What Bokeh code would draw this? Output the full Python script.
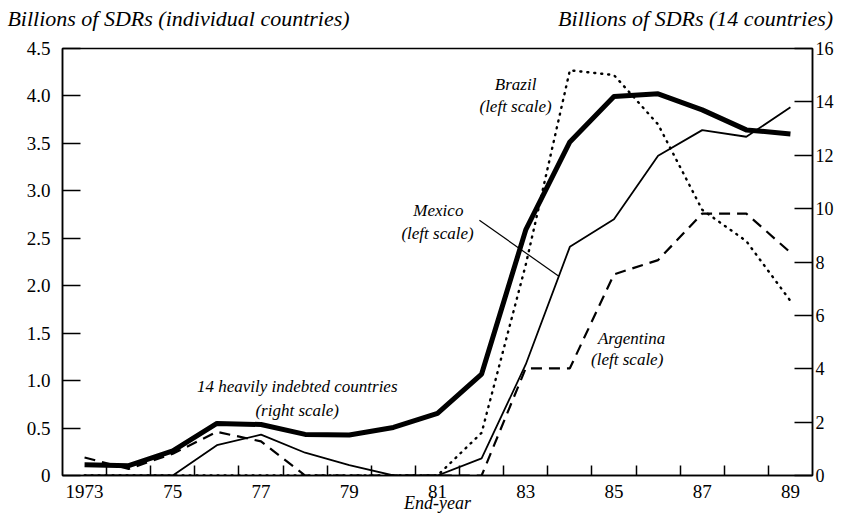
from bokeh.plotting import figure
from bokeh.models import Range1d, LinearAxis, FixedTicker, Label
from bokeh.embed import file_html
from bokeh.resources import INLINE
import numpy as np

years = list(range(1973, 1990))
# 14 heavily indebted countries (right scale, billions of SDRs)
indebted14 = [0.40, 0.37, 0.92, 1.95, 1.91, 1.54, 1.52, 1.80, 2.33, 3.80, 9.20,
              12.50, 14.20, 14.30, 13.70, 12.95, 12.80]
# individual countries (left scale)
mexico = [0, 0, 0, 0.32, 0.43, 0.24, 0.11, 0, 0, 0.18, 1.17, 2.41, 2.70, 3.37, 3.64, 3.57, 3.88]
brazil = [0, 0, 0, 0, 0, 0, 0, 0, 0, 0.45, 2.22, 4.27, 4.22, 3.70, 2.80, 2.47, 1.84]
argentina = [0.19, 0.07, 0.23, 0.46, 0.36, 0, 0, 0, 0, 0, 1.13, 1.13, 2.12, 2.27, 2.76, 2.76, 2.35]

left_ticks = [0, 0.5, 1.0, 1.5, 2.0, 2.5, 3.0, 3.5, 4.0, 4.5]
right_ticks = [0, 2, 4, 6, 8, 10, 12, 14, 16]
year_labels = [1973, 1975, 1977, 1979, 1981, 1983, 1985, 1987, 1989]
year_label_text = ["1973", "75", "77", "79", "81", "83", "85", "87", "89"]

left_title = "Billions of SDRs (individual countries)"
right_title = "Billions of SDRs (14 countries)"
x_title = "End-year"
# horizontal anchors (x data units) of the two scale titles above the frame
title_anchor = [1975.13, 1986.85]

SERIF = "Liberation Serif"

p = figure(width=836, height=515, output_backend="svg", toolbar_location=None,
           x_range=Range1d(1972.5, 1989.5), y_range=Range1d(0, 4.5),
           min_border_left=62, min_border_right=21, min_border_top=48, min_border_bottom=40)
p.extra_y_ranges = {"right": Range1d(0, 16)}
p.grid.visible = False
p.outline_line_color = "black"
p.outline_line_width = 1.5

# x axis (below)
xa = p.below[0]
xa.ticker = FixedTicker(ticks=year_labels, minor_ticks=[y + 0.5 for y in years[:-1]])
xa.major_label_overrides = {y: t for y, t in zip(year_labels, year_label_text)}
xa.major_tick_line_color = None
xa.minor_tick_in = 10
xa.minor_tick_out = 0
xa.minor_tick_line_width = 1.5
xa.minor_tick_line_color = "black"
xa.axis_line_width = 1.5
xa.major_label_text_font = SERIF
xa.major_label_text_font_size = "19px"
xa.major_label_text_color = "black"
xa.major_label_standoff = 3
xa.axis_label = x_title
xa.axis_label_text_font = SERIF
xa.axis_label_text_font_size = "18px"
xa.axis_label_text_font_style = "italic"
xa.axis_label_text_color = "black"
xa.axis_label_standoff = -8

# scale titles, drawn as labels of a bare axis above the frame
ta = LinearAxis(ticker=FixedTicker(ticks=title_anchor))
ta.major_label_overrides = {title_anchor[0]: left_title, title_anchor[1]: right_title}
ta.axis_line_color = None
ta.major_tick_line_color = None
ta.minor_tick_line_color = None
ta.major_label_text_font = SERIF
ta.major_label_text_font_style = "italic"
ta.major_label_text_font_size = "22px"
ta.major_label_text_color = "black"
ta.major_label_standoff = 12
p.add_layout(ta, "above")

# left axis
ya = p.left[0]
ya.ticker = FixedTicker(ticks=left_ticks)
ya.major_label_overrides = {t: ("0" if t == 0 else f"{t:.1f}") for t in left_ticks}
ya.major_tick_in = 18
ya.major_tick_out = 0
ya.major_tick_line_width = 1.5
ya.minor_tick_line_color = None
ya.axis_line_width = 1.5
ya.major_label_text_font = SERIF
ya.major_label_text_font_size = "19px"
ya.major_label_text_color = "black"
ya.major_label_standoff = 12

# right axis
ra = LinearAxis(y_range_name="right", ticker=FixedTicker(ticks=right_ticks))
ra.major_tick_in = 18
ra.major_tick_out = 0
ra.major_tick_line_width = 1.5
ra.minor_tick_line_color = None
ra.axis_line_width = 1.5
ra.major_label_text_font = SERIF
ra.major_label_text_font_size = "18px"
ra.major_label_text_color = "black"
ra.major_label_standoff = 3
p.add_layout(ra, "right")

# series
p.line(years, brazil, line_color="black", line_width=2.4, line_dash="1 6", line_cap="round")
p.line(years, argentina, line_color="black", line_width=2.2, line_dash="11 7")
p.line(years, mexico, line_color="black", line_width=1.8)
p.line(years, indebted14, y_range_name="right", line_color="black", line_width=5, line_join="round")

# Mexico leader line
leader_x = [1981.95, 1983.75]
leader_y = [2.69, float(np.interp(1983.75, years, mexico))]
p.line(leader_x, leader_y, line_color="black", line_width=1.2)

def lab(x, y, text, size="17px", align="center"):
    p.add_layout(Label(x=x, y=y, text=text, text_font=SERIF, text_font_size=size,
                       text_font_style="italic", text_align=align, text_baseline="middle",
                       text_color="black"))

lab(1982.77, 4.12, "Brazil")
lab(1982.77, 3.89, "(left scale)")
lab(1981.02, 2.79, "Mexico")
lab(1981.0, 2.55, "(left scale)")
lab(1985.4, 1.44, "Argentina")
lab(1985.3, 1.22, "(left scale)")
lab(1977.82, 0.94, "14 heavily indebted countries")
lab(1977.82, 0.68, "(right scale)")

open("out.html", "w").write(file_html(p, INLINE))
